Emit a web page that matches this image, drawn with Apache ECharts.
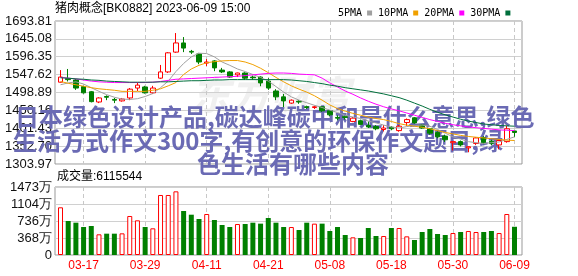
<!DOCTYPE html>
<html><head><meta charset="utf-8">
<script src="https://cdn.jsdelivr.net/npm/echarts@6/dist/echarts.min.js"></script>
<style>html,body{margin:0;padding:0;background:#fff}#c{width:578px;height:276px}</style>
</head><body><div id="c"></div>
<script>
const dates = ['03-14','03-15','03-16','03-17','03-20','03-21','03-22','03-23','03-24','03-27','03-28','03-29','03-30','03-31',
'04-03','04-04','04-06','04-07','04-10','04-11','04-12','04-13','04-14','04-17','04-18','04-19','04-20','04-21','04-24','04-25','04-26','04-27','04-28',
'05-04','05-05','05-08','05-09','05-10','05-11','05-12','05-15','05-16','05-17','05-18','05-19','05-22','05-23','05-24','05-25','05-26','05-29','05-30','05-31',
'06-01','06-02','06-05','06-06','06-07','06-08','06-09'];
const shownDates = ['03-17','03-29','04-11','04-21','05-08','05-18','05-30','06-09'];
// [open, close, low, high]
const candles = [
[1527,1541,1526,1560],[1537,1534,1529,1563],[1533,1511,1506,1536],[1515,1498,1496,1517],[1501,1474,1472,1503],
[1473,1484,1470,1486],[1488,1486,1478,1491],[1480,1478,1470,1484],[1476,1481,1474,1484],[1484,1508,1478,1511],
[1511,1519,1503,1527],[1514,1498,1496,1517],[1498,1511,1495,1517],[1538,1555,1536,1574],[1555,1607,1552,1609],
[1609,1634,1607,1661],[1634,1620,1609,1650],[1611,1609,1604,1615],[1604,1582,1576,1607],[1579,1582,1571,1590],
[1585,1566,1557,1587],[1560,1555,1552,1566],[1555,1541,1539,1557],[1547,1552,1541,1553],[1552,1538,1533,1554],
[1541,1539,1533,1545],[1541,1525,1516,1543],[1530,1511,1506,1538],[1503,1487,1478,1508],[1487,1476,1459,1495],
[1470,1478,1468,1480],[1475,1473,1468,1478],[1460,1458,1454,1463],[1458,1460,1454,1463],[1460,1449,1446,1462],
[1449,1438,1434,1451],[1431,1429,1423,1437],[1433,1431,1425,1436],[1420,1429,1418,1432],[1422,1412,1410,1425],
[1409,1405,1402,1420],[1406,1400,1396,1410],[1398,1402,1393,1410],[1404,1400,1396,1407],[1395,1407,1392,1410],
[1417,1425,1408,1428],[1430,1416,1414,1432],[1410,1402,1400,1412],[1400,1388,1384,1402],[1390,1378,1374,1393],
[1380,1370,1364,1384],[1362,1365,1341,1366],[1365,1356,1352,1368],[1348,1351,1336,1352],[1360,1375,1356,1377],
[1376,1362,1358,1380],[1366,1360,1355,1370],[1356,1368,1344,1371],[1365,1400,1362,1408],[1394,1390,1377,1395]];
const ma5 = [1520,1525,1528,1522,1512,1502,1493,1486,1481,1480,1482,1488,1496,1512,1530,1556,1578,1596,1606,1605,
1596,1582,1573,1563,1556,1548,1540,1530,1515,1500,1487,1478,1471,1464,1458,1451,1444,1437,1432,1428,
1421,1416,1410,1405,1402,1406,1409,1410,1407,1398,1388,1378,1372,1365,1362,1360,1362,1364,1371,1378];
const ma10 = [1529,1524,1520,1516,1512,1509,1507,1505,1502,1502,1502,1502,1505,1509,1517,1526,1548,1563,1573,1580,
1583,1585,1586,1586,1582,1575,1565,1553,1540,1528,1517,1508,1500,1490,1478,1465,1455,1448,1442,1437,
1432,1428,1425,1420,1414,1410,1407,1404,1400,1395,1390,1386,1382,1379,1377,1375,1373,1371,1369,1368];
const ma20 = [1540,1538,1536,1533,1530,1528,1527,1526,1526,1526,1526,1526,1527,1529,1532,1535,1536,1537,1538,1539,
1540,1541,1542,1543,1545,1547,1549,1551,1552,1552,1551,1549,1548,1547,1538,1525,1514,1503,1494,1484,
1475,1467,1460,1454,1449,1443,1437,1431,1425,1420,1415,1411,1408,1405,1403,1401,1399,1397,1396,1395];
const ma30 = [1539,1538,1536,1535,1533,1532,1530,1529,1528,1527,1527,1527,1527,1528,1528,1529,1530,1531,1531,1532,
1533,1533,1534,1534,1534,1534,1534,1534,1534,1534,1533,1531,1529,1526,1523,1519,1516,1512,1509,1506,
1503,1499,1495,1490,1485,1478,1470,1462,1453,1445,1438,1432,1426,1421,1417,1413,1411,1409,1408,1407];
// volume in 万 (10^4 shares)
const volumes = [1033,736,700,606,628,448,462,462,469,845,751,606,578,1300,1300,1379,953,873,780,888,
758,650,606,671,671,700,679,801,700,606,606,541,700,679,679,520,606,433,383,368,
585,411,411,585,585,404,325,498,563,455,433,476,498,520,498,498,520,476,888,611.5544];
const priceTicks = ['1303.97','1352.70','1401.43','1450.16','1498.89','1547.62','1596.35','1645.08','1693.81'];
const volTicks = ['0','368万','736万','1104万','1473万'];
const maNames = ['5PMA','10PMA','20PMA','30PMA'];
const titleText = '猪肉概念[BK0882] 2023-06-09 15:00';
const overlayLines = ['日本绿色设计产品,碳达峰碳中和是什么意思,绿色','生活方式作文300字,有创意的环保作文题目,绿','色生活有哪些内容'];

const RED = '#ff0000', GREEN = '#008000';
const pMin = parseFloat(priceTicks[0]), pMax = parseFloat(priceTicks[priceTicks.length-1]);
const pInt = (pMax - pMin) / (priceTicks.length - 1);
const vMax = 1473, vInt = vMax / (volTicks.length - 1);

const volData = volumes.map((v, i) => {
  const c = candles[i];
  const up = c[1] > c[0];
  return { value: v, itemStyle: up ? { color: '#ffffff', borderColor: RED, borderWidth: 1 } : { color: GREEN, borderColor: GREEN, borderWidth: 0 } };
});

const chart = echarts.init(document.getElementById('c'), null, { renderer: 'canvas' });
const dashed = { show: true, lineStyle: { color: '#c8c8c8', type: [4, 3], width: 1 } };
const labelFont = { fontFamily: 'Liberation Sans', fontSize: 13, color: '#111' };
const catInterval = (idx, val) => shownDates.indexOf(val) >= 0;
const DL = 60.5, DW = 454;
chart.setOption({
  animation: false,
  backgroundColor: '#fff',
  legend: {
    data: maNames, left: 333, top: 3, align: 'right', icon: 'rect', itemWidth: 5, itemHeight: 5, itemGap: 6,
    selectedMode: false, textStyle: { fontFamily: 'DejaVu Sans Mono', fontSize: 10, color: '#000' }
  },
  grid: [
    { left: 55, top: 21, width: 467, height: 143, show: true, borderColor: '#999', borderWidth: 1, backgroundColor: 'transparent' },
    { left: DL, top: 21, width: DW, height: 143 },
    { left: 55, top: 187, width: 467, height: 68, show: true, borderColor: '#999', borderWidth: 1, backgroundColor: 'transparent' },
    { left: DL, top: 187, width: DW, height: 68 }
  ],
  xAxis: [
    { gridIndex: 0, type: 'value', min: 0, max: 1, show: false },
    { gridIndex: 1, type: 'category', data: dates, boundaryGap: false, axisLine: { show: false }, axisTick: { show: false }, axisLabel: { show: false },
      splitLine: Object.assign({ interval: catInterval }, dashed) },
    { gridIndex: 2, type: 'value', min: 0, max: 1, show: false },
    { gridIndex: 3, type: 'category', data: dates, boundaryGap: false, axisLine: { show: false }, axisTick: { show: false },
      axisLabel: { show: true, interval: catInterval, color: RED, fontFamily: 'Liberation Sans', fontSize: 12, margin: 5 },
      splitLine: Object.assign({ interval: catInterval }, dashed) }
  ],
  yAxis: [
    { gridIndex: 0, type: 'value', min: pMin, max: pMax, interval: pInt, axisLine: { show: false }, axisTick: { show: false },
      axisLabel: Object.assign({ margin: 3, formatter: (v, i) => priceTicks[i] !== undefined ? priceTicks[i] : v.toFixed(2) }, labelFont),
      splitLine: { show: true, lineStyle: { color: '#d0d0d0', width: 1 } } },
    { gridIndex: 1, type: 'value', min: pMin, max: pMax, show: false },
    { gridIndex: 2, type: 'value', min: 0, max: vMax, interval: vInt, axisLine: { show: false }, axisTick: { show: false },
      axisLabel: Object.assign({ margin: 3, formatter: (v, i) => volTicks[i] !== undefined ? volTicks[i] : '' }, labelFont),
      splitLine: { show: true, lineStyle: { color: '#d0d0d0', width: 1 } } },
    { gridIndex: 3, type: 'value', min: 0, max: vMax, show: false }
  ],
  graphic: [
    { type: 'text', x: 270, y: 95, z: -1, style: { text: '东方财富', font: 'italic bold 40px "Noto Sans CJK SC"', fill: '#f0f0f0', textVerticalAlign: 'middle', textAlign: 'center' } },
    { type: 'text', x: 55, y: 9, style: { text: titleText, font: '12px "Liberation Sans", "Noto Sans CJK SC"', fill: '#000', textVerticalAlign: 'middle' } },
    { type: 'text', x: 57, y: 177, style: { text: '成交量:' + Math.round(volumes[volumes.length-1] * 10000), font: '12px "Liberation Sans", "Noto Sans CJK SC"', fill: '#000', textVerticalAlign: 'middle' } },
    { type: 'text', x: 15, y: 117, z: 1, style: { text: overlayLines[0], font: 'bold 24px "Noto Sans CJK SC"', fill: '#6a6ab4', textVerticalAlign: 'middle' } },
    { type: 'text', x: 13, y: 141, z: 1, style: { text: overlayLines[1], font: 'bold 24px "Noto Sans CJK SC"', fill: '#6a6ab4', textVerticalAlign: 'middle' } },
    { type: 'text', x: 197, y: 164, z: 1, style: { text: overlayLines[2], font: 'bold 24px "Noto Sans CJK SC"', fill: '#6a6ab4', textVerticalAlign: 'middle' } }
  ],
  series: [
    { type: 'candlestick', name: 'K', xAxisIndex: 1, yAxisIndex: 1, data: candles, barWidth: 5, clip: false, z: 3,
      itemStyle: { color: '#ffffff', color0: GREEN, borderColor: RED, borderColor0: GREEN, borderWidth: 1 } },
    { type: 'line', name: maNames[0], xAxisIndex: 1, yAxisIndex: 1, data: ma5, showSymbol: false, color: '#a0a0a0', lineStyle: { width: 1, color: '#a0a0a0' }, z: 4 },
    { type: 'line', name: maNames[1], xAxisIndex: 1, yAxisIndex: 1, data: ma10, showSymbol: false, color: '#f0a000', lineStyle: { width: 1, color: '#f0a000' }, z: 4 },
    { type: 'line', name: maNames[2], xAxisIndex: 1, yAxisIndex: 1, data: ma20, showSymbol: false, color: '#ff00ff', lineStyle: { width: 1, color: '#ff00ff' }, z: 4 },
    { type: 'line', name: maNames[3], xAxisIndex: 1, yAxisIndex: 1, data: ma30, showSymbol: false, color: '#006f3c', lineStyle: { width: 1, color: '#006f3c' }, z: 4 },
    { type: 'bar', name: 'VOL', xAxisIndex: 3, yAxisIndex: 3, data: volData, barWidth: 5, clip: false }
  ]
});
</script></body></html>
